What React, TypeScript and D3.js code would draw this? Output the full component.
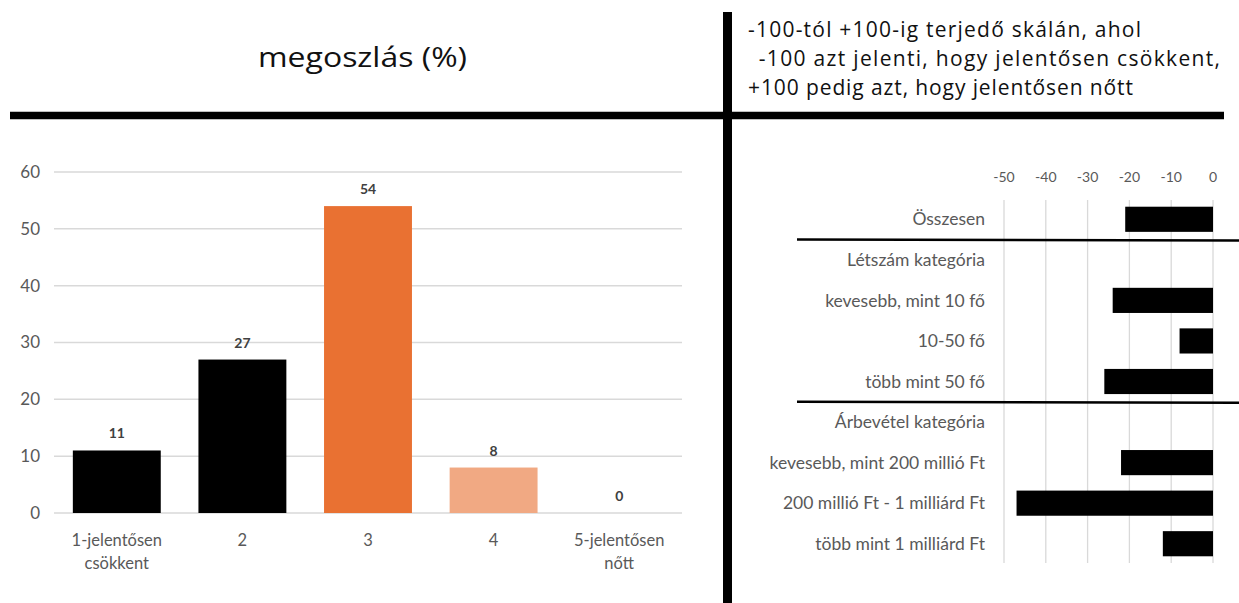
import React from "react";
import * as d3 from "d3";

// Left chart data
const distCategories = ["1-jelentősen\ncsökkent", "2", "3", "4", "5-jelentősen\nnőtt"];
const distValues = [11, 27, 54, 8, 0];
const distColors = ["#000000", "#000000", "#E97132", "#F1A983", "#F1A983"];
const distTicks = [0, 10, 20, 30, 40, 50, 60];

// Right chart data
const balCategories = [
  "Összesen",
  "Létszám kategória",
  "kevesebb, mint 10 fő",
  "10-50 fő",
  "több mint 50 fő",
  "Árbevétel kategória",
  "kevesebb, mint 200 millió Ft",
  "200 millió Ft - 1 milliárd Ft",
  "több mint 1 milliárd Ft",
];
const balValues: (number | null)[] = [-21, null, -24, -8, -26, null, -22, -47, -12];
const balTicks = [-50, -40, -30, -20, -10, 0];
const separatorsAfter = ["Összesen", "több mint 50 fő"];

const leftTitle = "megoszlás (%)";
const rightTitleLines = [
  "-100-tól +100-ig terjedő skálán, ahol",
  " -100 azt jelenti, hogy jelentősen csökkent,",
  "+100 pedig azt, hogy jelentősen nőtt",
];

const chartFont = "Lato, 'Open Sans', sans-serif";
const headFont = "'Open Sans', 'Noto Sans', sans-serif";

export default function App() {
  // left scales
  const x = d3.scaleBand<string>().domain(distCategories).range([54, 682]).paddingInner(0.3).paddingOuter(0.15);
  const y = d3.scaleLinear().domain([0, 60]).range([513, 172]);

  // right scales
  const xr = d3.scaleLinear().domain([-50, 0]).range([1004, 1213]);
  const yr = d3.scaleBand<string>().domain(balCategories).range([199, 564]).paddingInner(0.38).paddingOuter(0.19);

  const headerLineStarts = [748, 752, 748];
  const headerLineLengths = [393, 468, 385];
  const headerBaselines = [37, 66, 95];

  return (
    <svg width={1239} height={603} style={{ position: "absolute", left: 0, top: 0, display: "block", background: "#fff" }}>
      {/* header */}
      <text x={362.5} y={67} textAnchor="middle" fontFamily={headFont} fontSize={28} fill="#111" textLength={209} lengthAdjust="spacingAndGlyphs">
        {leftTitle}
      </text>
      {rightTitleLines.map((t, i) => (
        <text key={i} x={headerLineStarts[i]} y={headerBaselines[i]} fontFamily={headFont} fontSize={21} fill="#111" textLength={headerLineLengths[i]} lengthAdjust="spacing" style={{ whiteSpace: "pre" }}>
          {t}
        </text>
      ))}
      <line x1={10} x2={1224} y1={115.5} y2={115.5} stroke="#000" strokeWidth={7.5} />
      <line x1={727.5} x2={727.5} y1={12} y2={603} stroke="#000" strokeWidth={9} />

      {/* left chart */}
      <g>
        {distTicks.map((t) => (
          <g key={t}>
            <line x1={54} x2={682} y1={y(t)} y2={y(t)} stroke="#d9d9d9" strokeWidth={1.5} />
            <text x={40} y={y(t)} dy="0.35em" textAnchor="end" fontFamily={chartFont} fontSize={17} fill="#595959">
              {t}
            </text>
          </g>
        ))}
        {distCategories.map((c, i) => {
          const v = distValues[i];
          const bx = x(c)!;
          const bw = x.bandwidth();
          const cx = bx + bw / 2;
          return (
            <g key={c}>
              {v > 0 && <rect x={bx} y={y(v)} width={bw} height={y(0) - y(v)} fill={distColors[i]} />}
              <text x={cx} y={y(v) - 12} textAnchor="middle" fontFamily={chartFont} fontSize={14} fontWeight="bold" fill="#404040">
                {v}
              </text>
              {c.split("\n").map((line, j) => (
                <text key={j} x={cx} y={546 + j * 23} textAnchor="middle" fontFamily={chartFont} fontSize={16.5} fill="#595959">
                  {line}
                </text>
              ))}
            </g>
          );
        })}
      </g>

      {/* right chart */}
      <g>
        {balTicks.map((t) => (
          <g key={t}>
            <line x1={xr(t)} x2={xr(t)} y1={200} y2={563} stroke="#d9d9d9" strokeWidth={1.3} />
            <text x={xr(t)} y={177} dy="0.35em" textAnchor="middle" fontFamily={chartFont} fontSize={14} fill="#595959">
              {t}
            </text>
          </g>
        ))}
        {balCategories.map((c, i) => {
          const v = balValues[i];
          const by = yr(c)!;
          const bh = yr.bandwidth();
          return (
            <g key={c}>
              {v !== null && <rect x={xr(v)} y={by} width={xr(0) - xr(v)} height={bh} fill="#000" />}
              <text x={985} y={by + bh / 2} dy="0.35em" textAnchor="end" fontFamily={chartFont} fontSize={17.5} fill="#595959">
                {c}
              </text>
            </g>
          );
        })}
        {separatorsAfter.map((c) => {
          const sy = yr(c)! + yr.bandwidth() + (yr.step() * yr.paddingInner()) / 2;
          return <line key={c} x1={797} x2={1239} y1={sy} y2={sy + 1} stroke="#000" strokeWidth={2.5} />;
        })}
      </g>
    </svg>
  );
}
